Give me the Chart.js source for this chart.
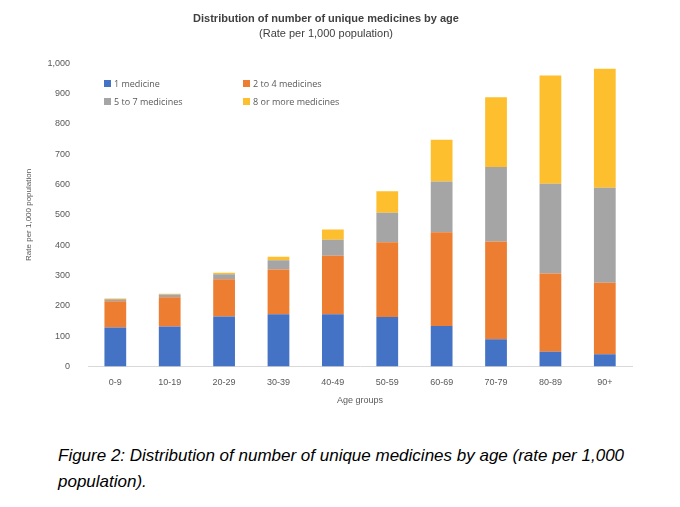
<!DOCTYPE html>
<html>
<head>
<meta charset="utf-8">
<script src="https://cdn.jsdelivr.net/npm/chart.js@4"></script>
<style>
body { margin: 0; background: #fff; font-family: "Open Sans", sans-serif; }
#wrap { position: relative; width: 680px; height: 410px; }
.leg { position: absolute; font-size: 9px; color: #595959; }
.leg span { display: inline-block; width: 7px; height: 7px; margin-right: 3px; }
#caption { position: absolute; left: 58px; top: 443px; width: 600px; font-family: "Liberation Sans", Arial, sans-serif; font-style: italic; font-size: 17px; line-height: 26px; color: #000; }
</style>
</head>
<body>
<div id="wrap">
  <canvas id="chart" width="680" height="410"></canvas>
  <div class="leg" style="left:104px;top:77px"><span style="background:#4472c4"></span>1 medicine</div>
  <div class="leg" style="left:243px;top:77px"><span style="background:#ed7d31"></span>2 to 4 medicines</div>
  <div class="leg" style="left:104px;top:95px"><span style="background:#a5a5a5"></span>5 to 7 medicines</div>
  <div class="leg" style="left:243px;top:95px"><span style="background:#fdbf2d"></span>8 or more medicines</div>
</div>
<div id="caption">Figure 2: Distribution of number of unique medicines by age (rate per 1,000 population).</div>
<script>
const ageGroups = ['0-9', '10-19', '20-29', '30-39', '40-49', '50-59', '60-69', '70-79', '80-89', '90+'];
const oneMedicine = [128, 132, 165, 172, 172, 163, 133, 90, 48, 40];
const twoToFour = [87, 96, 123, 148, 193, 247, 310, 322, 259, 236];
const fiveToSeven = [7, 9, 16, 30, 53, 97, 167, 246, 296, 314];
const eightOrMore = [2, 3, 5, 12, 34, 71, 138, 230, 357, 392];

const ctx = document.getElementById('chart').getContext('2d');
new Chart(ctx, {
    type: 'bar',
    data: {
        labels: ageGroups,
        datasets: [
            { label: '1 medicine', data: oneMedicine, backgroundColor: '#4472c4' },
            { label: '2 to 4 medicines', data: twoToFour, backgroundColor: '#ed7d31' },
            { label: '5 to 7 medicines', data: fiveToSeven, backgroundColor: '#a5a5a5' },
            { label: '8 or more medicines', data: eightOrMore, backgroundColor: '#fdbf2d' }
        ]
    },
    options: {
        responsive: false,
        animation: false,
        layout: { padding: { left: 20, right: 48, top: 0, bottom: 0 } },
        datasets: { bar: { categoryPercentage: 1, barPercentage: 0.4 } },
        scales: {
            x: {
                stacked: true,
                grid: { display: false },
                border: { color: '#d9d9d9' },
                ticks: { color: '#595959', font: { size: 9 } },
                title: { display: true, text: 'Age groups', color: '#595959', font: { size: 9 } }
            },
            y: {
                stacked: true,
                min: 0, max: 1000,
                grid: { display: false },
                border: { display: false },
                ticks: { stepSize: 100, color: '#595959', font: { size: 9 }, padding: 10 },
                title: { display: true, text: 'Rate per 1,000 population', color: '#595959', font: { size: 8 } }
            }
        },
        plugins: {
            legend: { display: false },
            tooltip: { enabled: false },
            title: {
                display: true,
                text: 'Distribution of number of unique medicines by age',
                color: '#404040',
                font: { size: 11, weight: 'bold' },
                padding: { top: 12, bottom: 2 }
            },
            subtitle: {
                display: true,
                text: '(Rate per 1,000 population)',
                color: '#404040',
                font: { size: 11 },
                padding: { bottom: 23 }
            }
        }
    }
});
</script>
</body>
</html>
